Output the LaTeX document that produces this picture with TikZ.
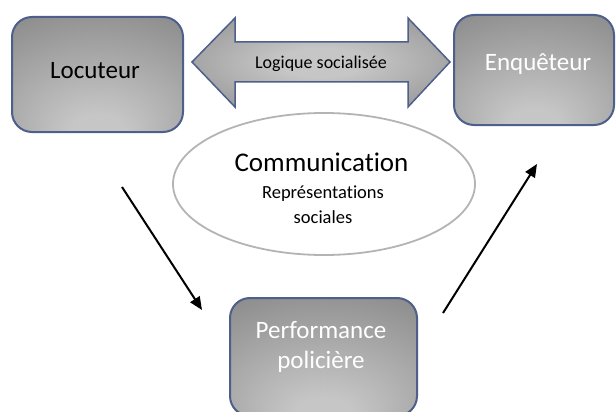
\documentclass[tikz,border=0pt]{standalone}
\usepackage{fontspec}
\setmainfont{Carlito}[Ligatures=NoCommon]
\usetikzlibrary{arrows.meta}
\definecolor{bordercol}{HTML}{4E5F8C}
\definecolor{shlight}{HTML}{C6C6C6}
\definecolor{shmid}{HTML}{8C8C8C}
\definecolor{shdark}{HTML}{5E5E5E}
\definecolor{ellcol}{HTML}{B4B4B4}
\pgfdeclareradialshading{boxshade}{\pgfpoint{0bp}{-28bp}}{color(0bp)=(shlight); color(8bp)=(shlight); color(45bp)=(shmid); color(85bp)=(shdark)}
\pgfdeclareradialshading{arrowshade}{\pgfpoint{0bp}{0bp}}{color(0bp)=(shlight); color(8bp)=(shlight); color(38bp)=(shmid); color(60bp)=(shdark)}
\begin{document}
\begin{tikzpicture}[x=1pt,y=-1pt,
  box/.style={rounded corners=20pt, draw=bordercol, line width=2pt, shading=boxshade, inner sep=0pt},
  lbl/.style={inner sep=0pt, font=\fontsize{25}{29}\selectfont},
  flow/.style={line width=2pt, -{Triangle[length=13pt,width=11pt]}}]
\useasboundingbox (0,0) rectangle (616,412);
\clip (0,0) rectangle (616,412);
% boxes
\node[box, minimum width=171pt, minimum height=115pt] (loc) at (97.5,74.5) {};
\node[lbl, text=black] (loct) at (95,71) {Locuteur};
\node[box, minimum width=160pt, minimum height=110pt] (enq) at (534,70) {};
\node[lbl, text=white] (enqt) at (538,64) {Enquêteur};
\node[box, minimum width=187pt, minimum height=118pt] (perf) at (323.5,357) {};
\node[lbl, text=white, align=center, font=\fontsize{25}{30}\selectfont] (perft) at (321,347) {Performance\\policière};
% double arrow
\shade[shading=arrowshade, draw=bordercol, line width=1.5pt, line join=miter]
  (192,62) -- (235,18) -- (235,42) -- (408,42) -- (408,18) -- (450,62)
  -- (408,107) -- (408,82) -- (235,82) -- (235,107) -- cycle;
\node[inner sep=0pt, font=\fontsize{18}{21}\selectfont] (logt) at (321,64) {Logique socialisée};
% ellipse
\draw[draw=ellcol, line width=1.8pt, fill=white] (324,184) ellipse [x radius=151, y radius=71];
\node[inner sep=0pt, font=\fontsize{27}{30}\selectfont] (comm) at (321.5,162) {Communication};
\node[inner sep=0pt, align=center, font=\fontsize{18.5}{25}\selectfont] (rep) at (323,204.5) {Représentations\\sociales};
% arrows
\coordinate (a1s) at (122,187);
\coordinate (a1e) at (202,310);
\coordinate (a2s) at (443,313);
\coordinate (a2e) at (537,164);
\draw[flow] (a1s) -- (a1e);
\draw[flow] (a2s) -- (a2e);
\end{tikzpicture}
\end{document}
